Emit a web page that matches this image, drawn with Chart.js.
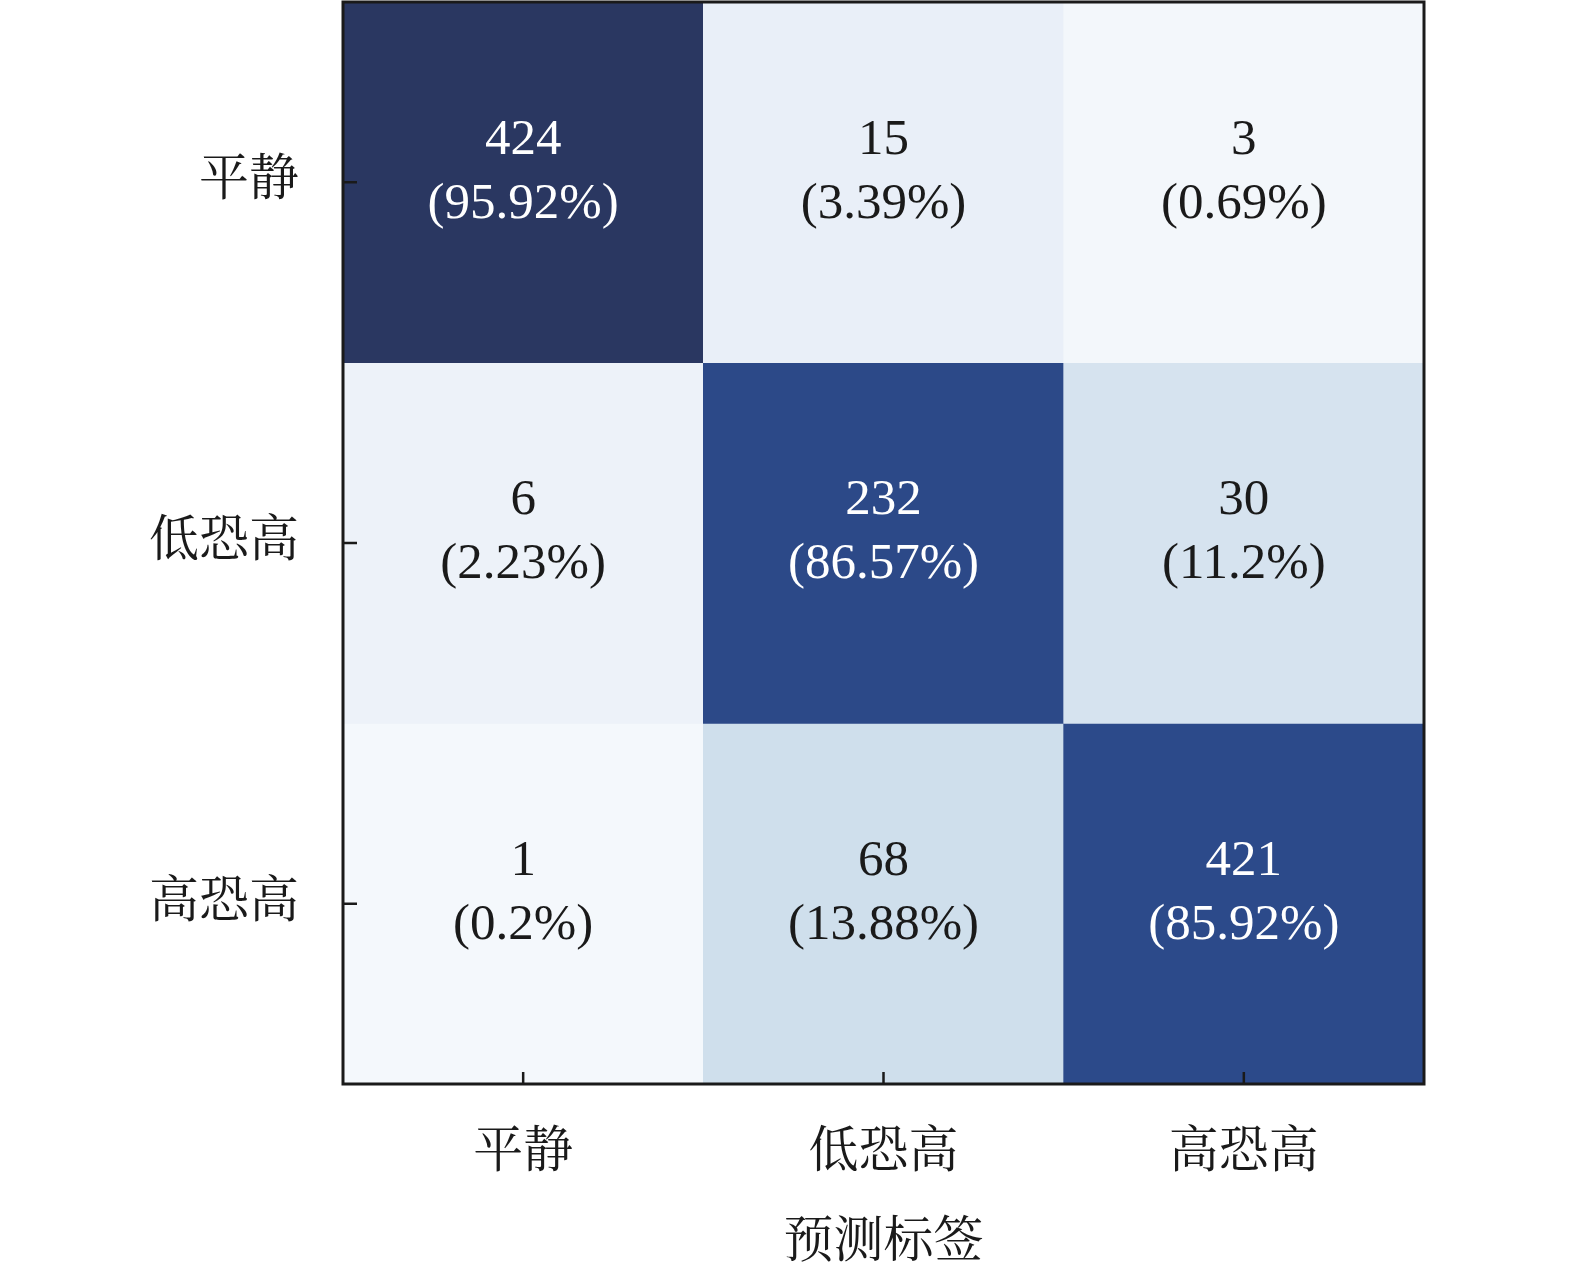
<!DOCTYPE html>
<html>
<head>
<meta charset="utf-8">
<script src="https://cdn.jsdelivr.net/npm/chart.js@4.4.1/dist/chart.umd.min.js"></script>
<style>
	html, body { margin: 0; padding: 0; background: #ffffff; overflow: hidden; }
	#cm-canvas { display: block; }
</style>
</head>
<body>
<canvas id="cm-canvas" width="1575" height="1266" style="width:1575px;height:1266px"></canvas>
<script>
// Confusion matrix values, rows = true label, columns = predicted label
const trueLabels = ["平静", "低恐高", "高恐高"];
const predLabels = ["平静", "低恐高", "高恐高"];
const counts = [
	[424, 15, 3],
	[6, 232, 30],
	[1, 68, 421]
];
const percents = [
	[95.92, 3.39, 0.69],
	[2.23, 86.57, 11.2],
	[0.2, 13.88, 85.92]
];
const axisTitle = "预测标签";

const serif = "'Liberation Serif', 'Times New Roman', 'Noto Serif CJK SC', 'Noto Sans CJK SC', serif";

// colour stops (percent -> rgb)
const colorStops = [
	[0, [245, 249, 252]],
	[3.4, [233, 239, 248]],
	[14, [207, 223, 236]],
	[86, [44, 74, 138]],
	[96, [42, 55, 97]]
];

function colorFor(p) {
	for (let i = 1; i < colorStops.length; i++) {
		const [p0, c0] = colorStops[i - 1];
		const [p1, c1] = colorStops[i];
		if (p <= p1) {
			const t = Math.max(0, (p - p0) / (p1 - p0));
			const c = c0.map((v, k) => Math.round(v + (c1[k] - v) * t));
			return `rgb(${c[0]},${c[1]},${c[2]})`;
		}
	}
	const last = colorStops[colorStops.length - 1][1];
	return `rgb(${last[0]},${last[1]},${last[2]})`;
}

// box, inward ticks and cell texts
const cellPlugin = {
	id: 'cellPlugin',
	afterDatasetsDraw(chart) {
		const ctx = chart.ctx;
		const area = chart.chartArea;
		const xs = chart.scales.x;
		const ys = chart.scales.y;

		ctx.save();
		ctx.textAlign = 'center';
		ctx.textBaseline = 'middle';
		ctx.font = '51px ' + serif;
		for (let r = 0; r < counts.length; r++) {
			for (let c = 0; c < counts[r].length; c++) {
				const cx = xs.getPixelForValue(c);
				const cy = ys.getPixelForValue(r);
				ctx.fillStyle = percents[r][c] > 50 ? '#ffffff' : '#1a1a1a';
				ctx.fillText(String(counts[r][c]), cx, cy - 42);
				ctx.fillText('(' + percents[r][c] + '%)', cx, cy + 22);
			}
		}

		ctx.strokeStyle = '#1a1a1a';
		ctx.lineWidth = 3;
		ctx.strokeRect(area.left, area.top, area.right - area.left, area.bottom - area.top);

		ctx.lineWidth = 2.5;
		ctx.beginPath();
		for (let r = 0; r < trueLabels.length; r++) {
			const y = ys.getPixelForValue(r);
			ctx.moveTo(area.left, y);
			ctx.lineTo(area.left + 14, y);
		}
		for (let c = 0; c < predLabels.length; c++) {
			const x = xs.getPixelForValue(c);
			ctx.moveTo(x, area.bottom);
			ctx.lineTo(x, area.bottom - 12);
		}
		ctx.stroke();
		ctx.restore();
	}
};

// one floating-bar dataset per true-label row
const datasets = trueLabels.map((name, r) => ({
	label: name,
	data: predLabels.map(() => [r - 0.5, r + 0.5]),
	backgroundColor: percents[r].map(colorFor),
	borderWidth: 0,
	barPercentage: 1,
	categoryPercentage: 1,
	grouped: false
}));

function noEdgePadding(scale) {
	scale.paddingTop = 0;
	scale.paddingBottom = 0;
	scale.paddingLeft = 0;
	scale.paddingRight = 0;
}

const ctx = document.getElementById("cm-canvas").getContext("2d");
const chart = new Chart(ctx, {
	type: "bar",
	data: {
		labels: predLabels,
		datasets: datasets
	},
	options: {
		responsive: false,
		animation: false,
		devicePixelRatio: 1,
		layout: {
			padding: { left: 0, right: 151, top: 2, bottom: 0 }
		},
		scales: {
			x: {
				type: 'category',
				offset: true,
				grid: { display: false, drawTicks: false },
				border: { display: false },
				ticks: {
					padding: 40,
					color: '#1a1a1a',
					font: { family: serif, size: 50 }
				},
				title: {
					display: true,
					text: axisTitle,
					color: '#1a1a1a',
					font: { family: serif, size: 50 },
					padding: { top: 0, bottom: -8 }
				},
				afterFit: (scale) => {
					scale.height = 182;
					noEdgePadding(scale);
				}
			},
			y: {
				type: 'linear',
				min: -0.5,
				max: 2.5,
				reverse: true,
				grid: { display: false, drawTicks: false },
				border: { display: false },
				afterBuildTicks: (scale) => {
					scale.ticks = trueLabels.map((_, i) => ({ value: i }));
				},
				ticks: {
					padding: 44,
					color: '#1a1a1a',
					font: { family: serif, size: 50 },
					callback: (v) => trueLabels[v]
				},
				afterFit: (scale) => {
					scale.width = 343;
					noEdgePadding(scale);
				}
			}
		},
		plugins: {
			legend: { display: false },
			tooltip: { enabled: false }
		}
	},
	plugins: [cellPlugin]
});
</script>
</body>
</html>
